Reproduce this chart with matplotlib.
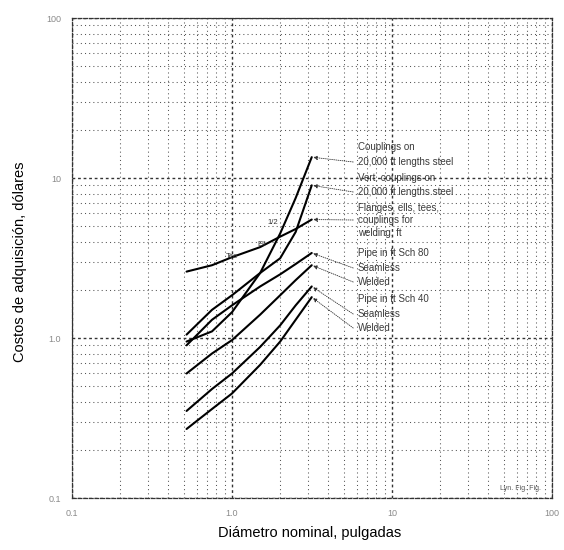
import numpy as np
import matplotlib
matplotlib.use("Agg")
import matplotlib.pyplot as plt
from matplotlib.ticker import FixedLocator, NullFormatter, LogLocator

plt.rcParams['font.family'] = ['Liberation Sans', 'DejaVu Sans']

# ---------------- data ----------------
diam = [0.52, 0.75, 1.0, 1.5, 2.0, 2.5, 3.15]        # nominal diameter, inches
couplings = [0.95, 1.1, 1.45, 2.55, 4.5, 7.5, 13.5]
vert_couplings = [1.05, 1.5, 1.85, 2.55, 3.15, 4.6, 9.0]
tee = [2.6, 2.85, 3.2, 3.7, 4.3, 4.8, 5.5]
sch80_seamless = [0.9, 1.3, 1.6, 2.1, 2.5, 2.9, 3.4]
sch80_welded = [0.6, 0.8, 0.97, 1.4, 1.85, 2.3, 2.85]
sch40_seamless = [0.35, 0.48, 0.6, 0.88, 1.2, 1.6, 2.1]
sch40_welded = [0.27, 0.36, 0.45, 0.68, 0.95, 1.3, 1.8]

tick_vals = [0.1, 1.0, 10, 100]
x_tick_labels = ["0.1", "1.0", "10", "100"]
y_tick_labels = ["0.1", "1.0", "10", "100"]

label_lines = [
    "Couplings on",
    "20,000 ft lengths steel",
    "Vert. couplings on",
    "20,000 ft lengths steel",
    "Flanges, ells, tees,",
    "couplings for",
    "welding, ft",
    "Pipe in ft Sch 80",
    "Seamless",
    "Welded",
    "Pipe in ft Sch 40",
    "Seamless",
    "Welded",
]
curve_tags = ["Tee", "Ell", "1/2"]

# ---------------- figure ----------------
W, H = 564, 550
fig = plt.figure(figsize=(W / 100, H / 100), dpi=100)
x0, x1, ytop, ybot = 72, 552, 18, 498
ax = fig.add_axes([x0 / W, 1 - ybot / H, (x1 - x0) / W, (ybot - ytop) / H])
ax.set_xscale("log")
ax.set_yscale("log")
ax.set_xlim(0.1, 100)
ax.set_ylim(0.1, 100)

# grid (scanned-looking log paper)
ax.xaxis.set_major_locator(FixedLocator(tick_vals))
ax.yaxis.set_major_locator(FixedLocator(tick_vals))
ax.xaxis.set_minor_locator(LogLocator(base=10, subs=np.arange(2, 10)))
ax.yaxis.set_minor_locator(LogLocator(base=10, subs=np.arange(2, 10)))
ax.xaxis.set_minor_formatter(NullFormatter())
ax.yaxis.set_minor_formatter(NullFormatter())
ax.grid(which="minor", color="#555555", linestyle=(0, (1, 3)), linewidth=0.75)
ax.grid(which="major", color="#333333", linestyle=(0, (2, 2)), linewidth=1.0)
ax.tick_params(which="both", length=0)
ax.set_xticklabels(x_tick_labels)
ax.set_yticklabels(y_tick_labels)
ax.tick_params(axis="x", pad=8, labelsize=6.5, labelcolor="#8a8a8a")
ax.tick_params(axis="y", pad=8, labelsize=6.5, labelcolor="#8a8a8a")
for s in ax.spines.values():
    s.set_linestyle((0, (3, 1.5)))
    s.set_color("#333333")
    s.set_linewidth(0.9)

# curves
series = [couplings, vert_couplings, tee, sch80_seamless, sch80_welded,
          sch40_seamless, sch40_welded]
for ys in series:
    ax.plot(diam, ys, color="black", linewidth=1.5, solid_capstyle="round",
            solid_joinstyle="round")

# label block on the right
fx = (358 - x0) / (x1 - x0)
line_py = [147, 162, 178, 192, 208, 220, 233, 253, 268, 282, 299, 314, 328]
for txt, py in zip(label_lines, line_py):
    ax.text(fx, (ybot - py) / (ybot - ytop), txt, transform=ax.transAxes,
            fontsize=7, color="#3a3a3a", va="center", ha="left")

# leader arrows from label lines to curve ends
leaders = [(1, couplings), (3, vert_couplings), (5, tee),
           (8, sch80_seamless), (9, sch80_welded),
           (11, sch40_seamless), (12, sch40_welded)]
for idx, ys in leaders:
    py = line_py[idx]
    ax.annotate("", xy=(diam[-1], ys[-1]), xycoords="data",
                xytext=(fx - 0.01, (ybot - py) / (ybot - ytop)),
                textcoords="axes fraction",
                arrowprops=dict(arrowstyle="-|>", color="#333333",
                                linewidth=0.6, linestyle=(0, (1, 1.5)),
                                mutation_scale=6, shrinkA=0, shrinkB=1))

# small tags on curves
tag_pos = [(232, 257), (262, 245), (273, 222)]
for t, (px, py) in zip(curve_tags, tag_pos):
    ax.text((px - x0) / (x1 - x0), (ybot - py) / (ybot - ytop), t,
            transform=ax.transAxes, fontsize=5.5, color="#333333",
            ha="center", va="center")

ax.text((520 - x0) / (x1 - x0), (ybot - 489) / (ybot - ytop), "Lyn. Fig. Fig.",
        transform=ax.transAxes, fontsize=5, color="#555555",
        ha="center", va="center")

# axis titles
fig.text(20 / W, 1 - 262 / H, "Costos de adquisición, dólares", rotation=90,
         ha="center", va="center", fontsize=10.5, color="black")
fig.text(310 / W, 1 - 533 / H, "Diámetro nominal, pulgadas",
         ha="center", va="center", fontsize=10.5, color="black")

fig.savefig("out.png", dpi=100)
